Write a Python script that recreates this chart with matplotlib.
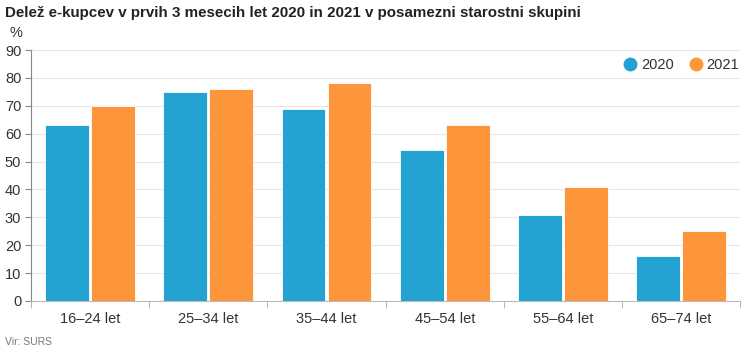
import matplotlib.pyplot as plt
from matplotlib.lines import Line2D
import numpy as np

plt.rcParams['font.family'] = ['Liberation Sans', 'DejaVu Sans']

categories = ['16–24 let', '25–34 let', '35–44 let', '45–54 let', '55–64 let', '65–74 let']
years = ['2020', '2021']
share_2020 = [63, 75, 69, 54, 31, 16]
share_2021 = [70, 76, 78, 63, 41, 25]
colors = ['#24a3d3', '#fd963a']

fig = plt.figure(figsize=(7.5, 3.51), dpi=100)
ax = fig.add_axes([0.0413, 0.1425, 0.9457, 0.715])

x = np.arange(len(categories))
w = 0.37
for i, vals in enumerate([share_2020, share_2021]):
    ax.bar(x + (i - 0.5) * (w + 0.02), vals, w, color=colors[i],
           edgecolor='white', linewidth=0.6, zorder=3)

ax.set_xlim(-0.5, len(categories) - 0.5)
ax.set_ylim(0, 90)
ax.set_yticks(range(0, 91, 10))
ax.set_xticks(x)
ax.set_xticklabels(categories)
ax.set_xticks(np.arange(-0.5, len(categories)), minor=True)
ax.tick_params(axis='x', which='major', length=0, pad=8, labelsize=10.5, labelcolor='#333333')
ax.tick_params(axis='x', which='minor', length=5, color='#aaaaaa')
ax.tick_params(axis='y', length=4, color='#888888', labelsize=10.5, labelcolor='#333333', pad=3)
ax.grid(axis='y', color='#e6e6e6', linewidth=0.8, zorder=0)
for s in ['top', 'right']:
    ax.spines[s].set_visible(False)
ax.spines['left'].set_color('#888888')
ax.spines['bottom'].set_color('#bbbbbb')

handles = [Line2D([], [], marker='o', linestyle='none', markersize=9,
                  markerfacecolor=c, markeredgecolor=c) for c in colors]
leg = ax.legend(handles, years, loc='upper right', bbox_to_anchor=(1.017, 1.02), ncol=2,
                frameon=False, handlelength=0.8, columnspacing=1.1, handletextpad=0.35,
                fontsize=10.5, labelcolor='#333333')

fig.text(0.007, 0.962, 'Delež e-kupcev v prvih 3 mesecih let 2020 in 2021 v posamezni starostni skupini',
         fontsize=10.9, fontweight='bold', color='#222222', ha='left', va='center')
fig.text(0.013, 0.905, '%', fontsize=10.5, color='#333333', ha='left', va='center')
fig.text(0.007, 0.025, 'Vir: SURS', fontsize=7.5, color='#777777', ha='left', va='center')

plt.savefig('out.png', dpi=100)
